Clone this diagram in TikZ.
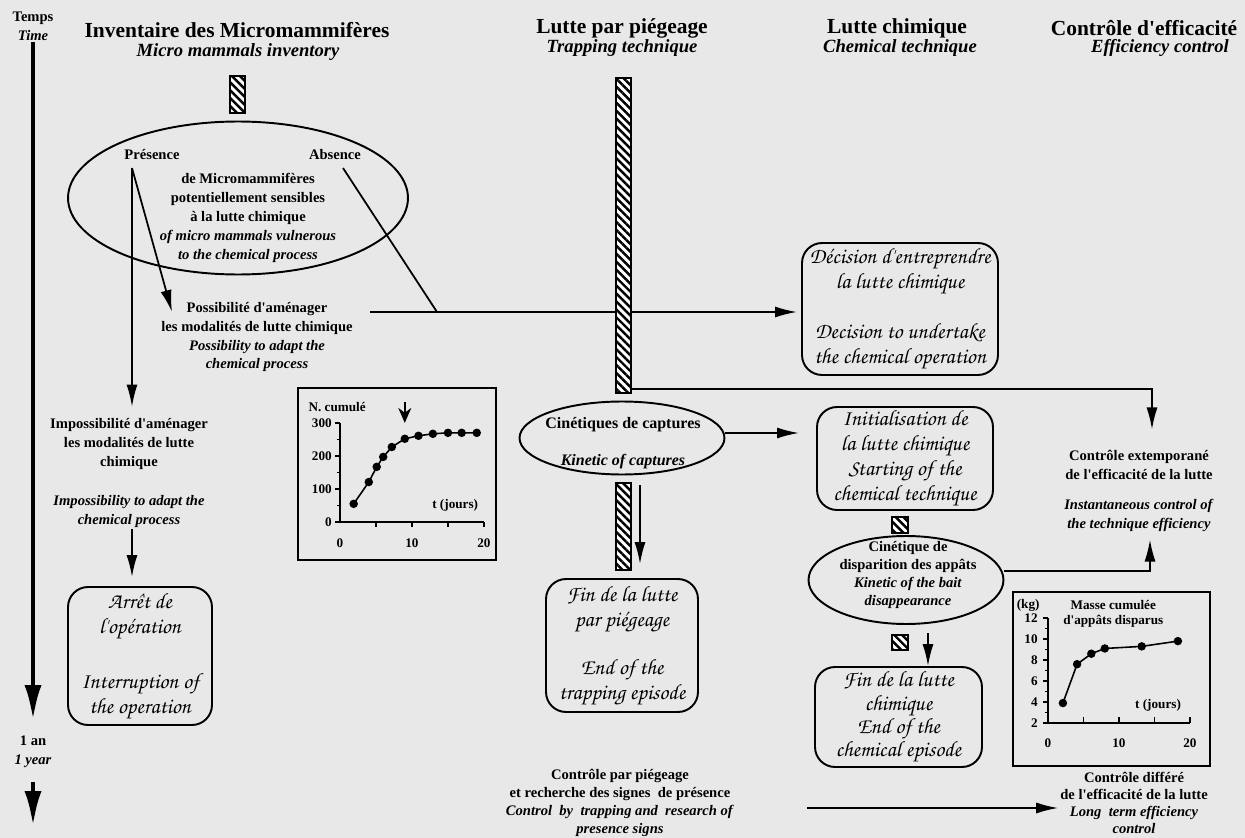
\documentclass[tikz,border=0pt]{standalone}
\usepackage{fontspec}
\setmainfont{Liberation Serif}[Ligatures=TeXOff]
\newfontfamily\chorus{TeX Gyre Chorus}
\usepackage{tikz}
\usetikzlibrary{arrows.meta,shapes.geometric,patterns.meta}

\tikzset{
  ttl/.style={font=\bfseries\fontsize{12.2}{14}\selectfont},
  subttl/.style={font=\bfseries\itshape\fontsize{10.6}{12}\selectfont},
  txt/.style={font=\bfseries\fontsize{8.3}{10.8}\selectfont, align=center, inner sep=1pt},
  txtc/.style={txt, font=\bfseries\fontsize{8.3}{10.1}\selectfont},
  axlbl/.style={font=\bfseries\fontsize{7.5}{9}\selectfont, align=center, inner sep=1pt},
  calbox/.style={font=\chorus\fontsize{12.5}{14.2}\selectfont, align=center, draw, line width=1.1pt, rounded corners=0.4cm, inner sep=1pt},
  ell/.style={draw, ellipse, line width=1.1pt, inner sep=0pt},
  hatch/.style={draw, line width=1pt, inner sep=0pt, preaction={fill=white},
    pattern={Lines[angle=-45,distance=3.2pt,line width=1.4pt]}},
  ln/.style={line width=1pt},
  arr/.style={line width=1pt, -{Latex[length=0.44cm,width=0.22cm]}},
  timearr/.style={line width=0.1cm, -{Latex[length=0.72cm,width=0.34cm]}},
  dot/.style={circle, fill, inner sep=0pt, minimum size=0.17cm},
}

\begin{document}
\begin{tikzpicture}[x=0.02cm, y=-0.02cm]
\useasboundingbox (0,0) rectangle (1245,838);
\fill[black!9] (0,0) rectangle (1245,838); % paper

% time axis
\node[txt] (temps) at (33,26) {Temps\\\textit{Time}};
\node[txt] (an) at (33,752) {1 an\\\textit{1 year}};
\coordinate (tend) at (33,827);
\draw[timearr, shorten >=0.26cm] (temps.south) -- (an.north);
\draw[timearr, shorten <=0.24cm] (an.south) -- (tend);

% column titles
\node[ttl] (invt) at (237,30) {Inventaire des Micromammifères};
\node[subttl] (invs) at (238,52) {Micro mammals inventory};
\node[ttl] (trapt) at (622,28) {Lutte par piégeage};
\node[subttl] (traps) at (622,48) {Trapping technique};
\node[ttl] (chemt) at (897,28) {Lutte chimique};
\node[subttl] (chems) at (900,48) {Chemical technique};
\node[ttl] (efft) at (1144,28) {Contrôle d'efficacité};
\node[subttl] (effs) at (1160,48) {Efficiency control};

% inventory
\node[hatch, minimum width=0.3cm, minimum height=0.74cm] (invbar) at (237.5,94.5) {};
\node[ell, minimum width=6.8cm, minimum height=3.06cm] (inv) at (238,198) {};
\node[txt] (pres) at (152,155) {Présence};
\node[txt] (abs) at (335,155) {Absence};
\node[txt] (invtxt) at (248,218) {de Micromammifères\\potentiellement sensibles\\à la lutte chimique\\\textit{of micro mammals vulnerous}\\\textit{to the chemical process}};
\node[txt] (poss) at (257,337) {Possibilité d'aménager\\les modalités de lutte chimique\\\textit{Possibility to adapt the}\\\textit{chemical process}};
\node[txt] (imp) at (129,473) {Impossibilité d'aménager\\les modalités de lutte\\chimique\\[11pt]\textit{Impossibility to adapt the}\\\textit{chemical process}};
\node[calbox, minimum width=2.88cm, minimum height=2.76cm] (arret) at (140,656) {Arrêt de\\l'opération\\[17pt]Interruption of\\the operation};

% trapping
\node[hatch, minimum width=0.3cm, minimum height=6.3cm] (trapbar) at (623.5,235.5) {};
\node[ell, minimum width=4.1cm, minimum height=1.46cm] (capt) at (622,438) {};
\node[txt, font=\bfseries\fontsize{9.1}{11}\selectfont] (capttxt) at (623,443) {Cinétiques de captures\\[10pt]\textit{Kinetic of captures}};
\node[hatch, minimum width=0.3cm, minimum height=1.74cm] (trapbar2) at (623.5,526.5) {};
\node[calbox, minimum width=3.04cm, minimum height=2.66cm] (fintrap) at (622,645.5) {Fin de la lutte\\par piégeage\\[13pt]End of the\\trapping episode};
\node[txtc] (ctrap) at (620,803) {Contrôle par piégeage\\et recherche des signes~ de présence\\\textit{Control~ by~ trapping and~ research of}\\\textit{presence signs}};

% chemical
\node[calbox, minimum width=3.92cm, minimum height=2.64cm] (dec) at (900,309) {Décision d'entreprendre\\la lutte chimique\\[14pt]Decision to undertake\\the chemical operation};
\node[calbox, minimum width=3.52cm, minimum height=2.06cm] (init) at (905,458.5) {Initialisation de\\la lutte chimique\\Starting of the\\chemical technique};
\node[hatch, minimum width=0.32cm, minimum height=0.32cm] (chembar) at (900,525) {};
\node[ell, minimum width=3.9cm, minimum height=1.76cm] (dispar) at (906,580) {};
\node[txtc] (distxt) at (908,575) {Cinétique de\\disparition des appâts\\\textit{Kinetic of the bait}\\\textit{disappearance}};
\node[hatch, minimum width=0.32cm, minimum height=0.3cm] (chembar2) at (900,642.5) {};
\node[calbox, minimum width=3.34cm, minimum height=2cm] (finchem) at (898.5,717) {Fin de la lutte\\[-1pt]chimique\\[-1pt]End of the\\[-1pt]chemical episode};

% efficiency
\node[txt] (ext) at (1139,491) {Contrôle extemporané\\de l'efficacité de la lutte\\[6pt]\textit{Instantaneous control of}\\\textit{the technique efficiency}};
\node[txtc, font=\bfseries\fontsize{8.3}{9.6}\selectfont] (diff) at (1134,803) {Contrôle différé\\de l'efficacité de la lutte\\\textit{Long~ term efficiency}\\\textit{control}};

% connectors
\coordinate (presfoot) at (132,168);
\coordinate (absfoot) at (343,168);
\coordinate (posstip) at (172,312);
\coordinate (hstart) at (370,312);
\coordinate (absend) at (437,312);
\coordinate (trarr) at (640,485);
\coordinate (chemarr) at (928,633);
\coordinate (longarr) at (807,808);
\draw[arr, shorten >=0.2cm] (presfoot) -- (presfoot |- imp.north);
\draw[arr] (presfoot) -- (posstip);
\draw[ln] (absfoot) -- (absend);
\draw[ln] (hstart) -- (hstart -| trapbar.west);
\draw[arr, shorten >=0.08cm] (hstart -| trapbar.east) -- (hstart -| dec.west);
\draw[arr, shorten >=0.18cm] (imp.south -| presfoot) -- (arret.north -| presfoot);
\draw[arr, shorten >=0.38cm] ([yshift=0.1cm]trapbar.south east) -| ([xshift=0.26cm]ext.north);
\draw[arr, shorten >=0.34cm] ([yshift=0.1cm]capt.east) -- ([yshift=0.1cm]capt.east -| init.west);
\draw[arr, shorten >=0.28cm] (trarr) -- (trarr |- fintrap.north);
\draw[arr] (chemarr) -- (chemarr |- finchem.north);
\draw[arr, shorten >=0.12cm] ([yshift=0.18cm]dispar.east) -| ([xshift=0.22cm]ext.south);
\draw[arr] (longarr) -- (longarr -| diff.west);

% captures chart
\draw[line width=1pt] (298,388) rectangle (496,560);
\begin{scope}[shift={(340,522)}, x=0.144cm, y=0.0066cm, line width=0.9pt]
  \draw (0,300) -- (0,0) -- (20,0);
  \foreach \v in {0,100,200,300} {
    \draw (0,\v) -- (-0.7,\v);
    \node[axlbl, anchor=east] (ny\v) at (-0.8,\v) {\v};
  }
  \foreach \v in {50,150,250} \draw (0,\v) -- (-0.4,\v);
  \foreach \t in {5,10,15,20} \draw (\t,0) -- (\t,-15);
  \foreach \t in {0,10,20} \node[axlbl] (nx\t) at (\t,-64) {\t};
  \draw plot coordinates {(1.9,55) (4,121) (5.1,167) (6,197) (7.2,227) (9,252) (10.9,261) (12.9,267) (15,270) (16.9,270) (19,270)};
  \foreach \t/\n in {1.9/55,4/121,5.1/167,6/197,7.2/227,9/252,10.9/261,12.9/267,15/270,16.9/270,19/270}
    \node[dot] (c\t) at (\t,\n) {};
  \node[axlbl] (ncum) at (-0.4,348) {N. cumulé};
  \node[axlbl] (njours) at (16,51) {t (jours)};
  \draw[line width=1pt, -{Stealth[length=0.3cm,width=0.26cm]}] (9,362) -- (9,300);
\end{scope}

% bait chart
\draw[line width=1pt] (1013,592) rectangle (1210,766);
\begin{scope}[shift={(1048,744)}, x=0.142cm, y=0.21cm, line width=0.9pt]
  \draw (0,12) -- (0,2) -- (20,2);
  \foreach \v in {2,4,...,12} {
    \draw (0,\v) -- (-0.7,\v);
    \node[axlbl, anchor=east] (my\v) at (-1.1,\v) {\v};
  }
  \foreach \v in {3,5,...,11} \draw (0,\v) -- (-0.4,\v);
  \foreach \t in {5,10,15,20} \draw (\t,2) -- (\t,2.55);
  \foreach \t in {0,10,20} \node[axlbl] (mx\t) at (\t,0.1) {\t};
  \draw plot coordinates {(2.1,3.9) (4.1,7.6) (6.1,8.6) (8,9.1) (13.2,9.3) (18.3,9.8)};
  \foreach \t/\k in {2.1/3.9,4.1/7.6,6.1/8.6,8/9.1,13.2/9.3,18.3/9.8}
    \node[dot] (b\t) at (\t,\k) {};
  \node[axlbl] (mkg) at (-2.8,13.2) {(kg)};
  \node[axlbl] (mmasse) at (9.2,12.4) {Masse cumulée\\d'appâts disparus};
  \node[axlbl] (mjours) at (15.5,3.7) {t (jours)};
\end{scope}
\end{tikzpicture}
\end{document}
